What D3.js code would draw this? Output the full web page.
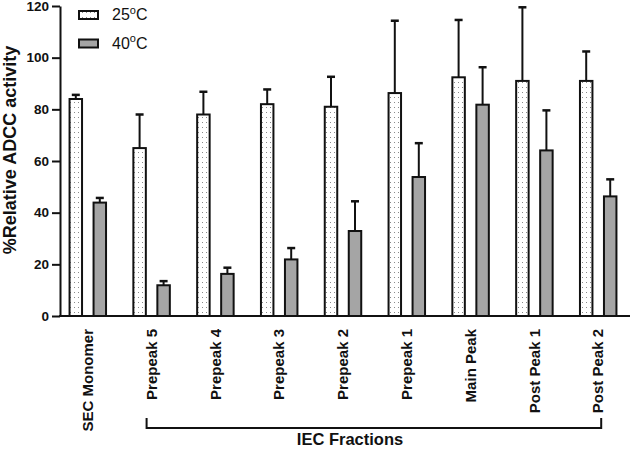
<!DOCTYPE html>
<html><head><meta charset="utf-8">
<script src="https://cdn.jsdelivr.net/npm/d3@7"></script>
<style>
body{margin:0;background:#fff;}
text{font-family:"Liberation Sans",Arial,sans-serif;}
</style></head>
<body><svg id="chart" width="630" height="449"></svg>
<script>
const categories = ["SEC Monomer","Prepeak 5","Prepeak 4","Prepeak 3","Prepeak 2","Prepeak 1","Main Peak","Post Peak 1","Post Peak 2"];
const seriesNames = ["25", "40"];
const values25 = [84, 65, 78, 82, 81, 86.3, 92.4, 91, 91];
const errors25 = [1.6, 13, 8.8, 5.7, 11.6, 28, 22.2, 28.5, 11.4];
const values40 = [43.9, 11.9, 16.3, 21.9, 32.9, 53.8, 81.8, 64.1, 46.3];
const errors40 = [1.8, 1.6, 2.4, 4.4, 11.5, 13.1, 14.5, 15.5, 6.6];
const yTicks = [0, 20, 40, 60, 80, 100, 120];
const fractionGroup = ["Prepeak 5", "Post Peak 2"];
const fractionLabel = "IEC Fractions";
const yLabel = "%Relative ADCC activity";

const svg = d3.select("#chart");
const defs = svg.append("defs");
const pat = defs.append("pattern").attr("id","dots").attr("patternUnits","userSpaceOnUse")
  .attr("width",4).attr("height",5).attr("x",1).attr("y",0);
pat.append("rect").attr("width",4).attr("height",5).attr("fill","#fff");
pat.append("rect").attr("x",1).attr("y",2).attr("width",1).attr("height",1).attr("fill","#8a8a8a");

const fills = {"25":"url(#dots)","40":"#a5a5a5"};

const x0 = d3.scalePoint().domain(categories).range([58, 628]).padding(0.467);
const x1 = d3.scaleBand().domain(seriesNames).range([-24, 24]).paddingInner(0.48).paddingOuter(0.24);
const y = d3.scaleLinear().domain([0, 120]).range([316, 6]);

const data = [];
categories.forEach((c,i)=>{
  data.push({cat:c, s:"25", v:values25[i], e:errors25[i]});
  data.push({cat:c, s:"40", v:values40[i], e:errors40[i]});
});

// error bars (upper only)
const eb = svg.append("g");
data.forEach(d=>{
  const cx = x0(d.cat) + x1(d.s) + x1.bandwidth()/2;
  eb.append("line").attr("x1",cx).attr("x2",cx).attr("y1",y(d.v)).attr("y2",y(d.v+d.e))
    .attr("stroke","#111").attr("stroke-width",2);
  eb.append("line").attr("x1",cx-4).attr("x2",cx+4).attr("y1",y(d.v+d.e)).attr("y2",y(d.v+d.e))
    .attr("stroke","#111").attr("stroke-width",2.5);
});

// bars
svg.append("g").selectAll("rect").data(data).join("rect")
  .attr("x", d=>x0(d.cat)+x1(d.s))
  .attr("y", d=>y(d.v))
  .attr("width", x1.bandwidth())
  .attr("height", d=>y(0)-y(d.v))
  .attr("fill", d=>fills[d.s])
  .attr("stroke","#111").attr("stroke-width",2);

// y axis
const yAxis = svg.append("g").attr("transform","translate(60,0)")
  .call(d3.axisLeft(y).tickValues(yTicks).tickSize(8).tickPadding(3).tickSizeOuter(0));
yAxis.select(".domain").attr("stroke","#111").attr("stroke-width",2);
yAxis.selectAll(".tick line").attr("stroke","#111").attr("stroke-width",2);
yAxis.selectAll(".tick text").attr("font-size",13.5).attr("font-weight","bold").attr("fill","#111")
  .attr("font-family","'Liberation Sans',Arial,sans-serif");

// x axis line
svg.append("line").attr("x1",59).attr("x2",630).attr("y1",y(0)).attr("y2",y(0))
  .attr("stroke","#111").attr("stroke-width",2);

// x labels
svg.append("g").selectAll("text").data(categories).join("text")
  .attr("transform", d=>`translate(${x0(d)},329) rotate(-90)`)
  .attr("text-anchor","end").attr("dy","0.35em")
  .attr("font-size",15).attr("font-weight","bold").attr("fill","#111")
  .text(d=>d);

// bracket
const bl = x0(fractionGroup[0]) - 5, br = x0(fractionGroup[1]) + 3;
svg.append("path").attr("d",`M${bl},418V428H${br}V418`).attr("fill","none")
  .attr("stroke","#111").attr("stroke-width",2);
svg.append("text").attr("x",350).attr("y",445).attr("text-anchor","middle")
  .attr("font-size",16.5).attr("font-weight","bold").attr("fill","#111").text(fractionLabel);

// y label
svg.append("text").attr("transform","translate(16,150) rotate(-90)").attr("text-anchor","middle")
  .attr("font-size",18).attr("font-weight","bold").attr("fill","#111").text(yLabel);

// legend
const legY = [11, 39.5];
seriesNames.forEach((s,i)=>{
  svg.append("rect").attr("x",79).attr("y",legY[i]).attr("width",19).attr("height",8)
    .attr("fill",fills[s]).attr("stroke","#111").attr("stroke-width",2);
  const t = svg.append("text").attr("x",112).attr("y",legY[i]+9).attr("font-size",16).attr("fill","#111");
  t.append("tspan").text(s);
  t.append("tspan").attr("font-size",11).attr("dy",-6.5).text("o");
  t.append("tspan").attr("dy",6.5).text("C");
});
</script></body></html>
